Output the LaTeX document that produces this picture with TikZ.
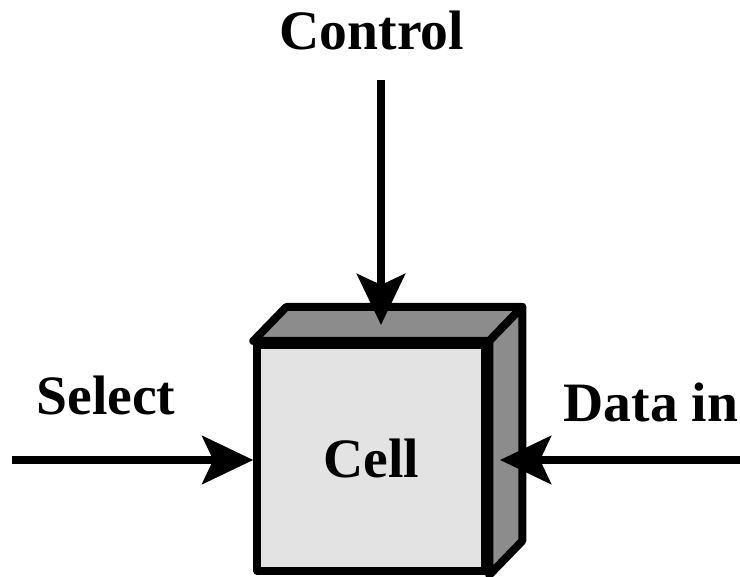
\documentclass[tikz,border=0pt]{standalone}
\usepackage{fontspec}
\setmainfont{Liberation Serif}
\usetikzlibrary{arrows.meta,calc}

\definecolor{facelight}{gray}{0.89}
\definecolor{facedark}{gray}{0.55}

\begin{document}
\begin{tikzpicture}[x=0.5pt, y=-0.5pt, font=\fontsize{27.8}{33}\selectfont\bfseries,
	wire/.style={line width=4pt, -{Stealth[length=25.5pt, width=24pt, inset=5.5pt]}},
	face/.style={draw, line width=4pt, line join=round}]
	\useasboundingbox (0,0) rectangle (740,577);
	% the cell: front face, then top and side
	\node[face, fill=facelight, minimum width=114pt, minimum height=113pt, inner sep=0pt] (cell) at (371.25,458) {Cell};
	\draw[face, fill=facedark] (cell.north west) -- ++(33,-34) -- ($(cell.north east)+(33,-34)$) -- (cell.north east) -- cycle;
	\draw[face, fill=facedark] (cell.north east) -- ++(33,-34) -- ($(cell.south east)+(33,-34)$) -- (cell.south east) -- cycle;
	% labels
	\node[anchor=base] (control) at (372,50) {Control};
	\node[anchor=base] (select) at (106,415) {Select};
	\node[anchor=base] (datain) at (651,422) {Data in};
	% inputs
	\coordinate (ctlstart) at (381,80);
	\coordinate (topface) at (381,325);
	\coordinate (selstart) at (12,460);
	\coordinate (dinstart) at (740,460);
	\coordinate (sideface) at (500,460);
	\draw[wire] (ctlstart) -- (topface);
	\draw[wire] (selstart) -- (selstart -| cell.west);
	\draw[wire] (dinstart) -- (sideface);
\end{tikzpicture}
\end{document}
